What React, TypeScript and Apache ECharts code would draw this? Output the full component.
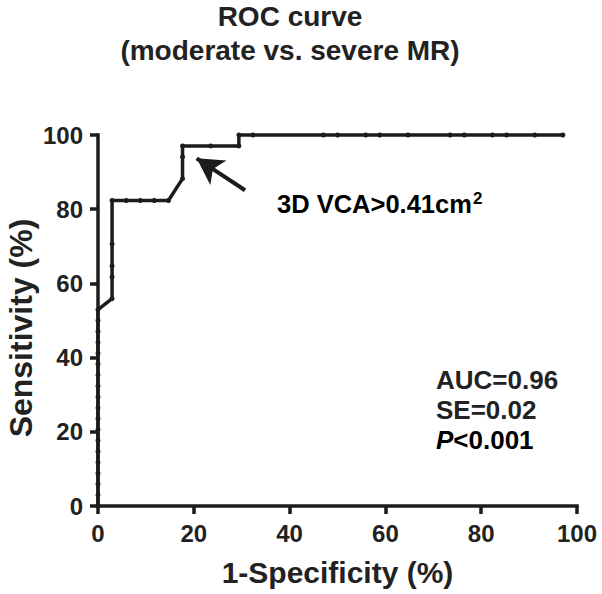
import React, { useEffect, useRef } from "react";
import * as echarts from "echarts";

// 1-Specificity (%) and Sensitivity (%) of the ROC curve points
const fpr = [
  0, 0, 0, 0, 0, 0, 0, 0, 0, 0, 0, 0, 0, 0, 0, 0, 0, 0, 0,
  2.94, 2.94, 2.94, 2.94, 2.94,
  5.88, 8.82, 11.76, 14.71,
  17.65, 17.65, 17.65,
  23.53, 29.41, 29.41,
  32.35, 47.06, 50.0, 55.88, 58.82, 64.71, 73.53, 76.47, 82.35, 85.29, 91.18, 97.06,
];
const tpr = [
  0, 2.94, 5.88, 8.82, 11.76, 14.71, 17.65, 20.59, 23.53, 26.47, 29.41, 32.35, 35.29, 38.24, 41.18, 44.12, 47.06, 50.0, 52.94,
  55.88, 61.76, 64.71, 70.59, 82.35,
  82.35, 82.35, 82.35, 82.35,
  88.24, 94.12, 97.06,
  97.06, 97.06, 100,
  100, 100, 100, 100, 100, 100, 100, 100, 100, 100, 100, 100,
];
const axisTicks = [0, 20, 40, 60, 80, 100];
const titleLines = ["ROC curve", "(moderate vs. severe MR)"];
const xName = "1-Specificity (%)";
const yName = "Sensitivity (%)";
const cutoffLabel = ["3D VCA>0.41cm", "2"];
const arrowFrom = [30.7, 85.1];
const arrowTo = [20.6, 93.7];
const stats = ["AUC=0.96", "SE=0.02", "<0.001"];

const FONT = "'Liberation Sans', Arial, Helvetica, sans-serif";
const INK = "#1c1c1c";

export default function App() {
  const ref = useRef<HTMLDivElement>(null);
  useEffect(() => {
    if (!ref.current) return;
    const chart = echarts.init(ref.current, undefined, { renderer: "svg" });
    const points = fpr.map((x, i) => [x, tpr[i]]);
    const axisCommon = {
      type: "value" as const,
      min: axisTicks[0],
      max: axisTicks[axisTicks.length - 1],
      interval: axisTicks[1] - axisTicks[0],
      axisLine: { show: true, lineStyle: { color: INK, width: 3.5, cap: "square" } },
      axisTick: { show: true, length: 8, inside: false, lineStyle: { color: INK, width: 3.5 } },
      splitLine: { show: false },
      axisLabel: {
        margin: 15,
        color: "#222",
        fontFamily: FONT,
        fontWeight: "bold" as const,
        fontSize: 24,
      },
    };
    const statStyle = {
      fontFamily: FONT,
      fontWeight: "bold",
      fontSize: 26,
      fill: "#222",
      textVerticalAlign: "middle",
    };
    chart.setOption({
      animation: false,
      backgroundColor: "#ffffff",
      title: {
        text: titleLines.join("\n"),
        left: 290,
        top: -1,
        padding: 0,
        textAlign: "center",
        textStyle: {
          fontFamily: FONT,
          fontWeight: "bold",
          fontSize: 28,
          lineHeight: 34,
          color: "#222",
        },
      },
      grid: { left: 98, right: 25, top: 135, bottom: 88, containLabel: false },
      xAxis: { ...axisCommon },
      yAxis: { ...axisCommon },
      series: [
        {
          type: "line",
          data: points,
          symbol: "circle",
          symbolSize: 5,
          showSymbol: true,
          showAllSymbol: true,
          clip: false,
          lineStyle: { color: INK, width: 3.5 },
          itemStyle: { color: INK },
          z: 5,
          markLine: {
            silent: true,
            symbol: ["none", "arrow"],
            symbolSize: [22, 26],
            label: { show: false },
            lineStyle: { color: INK, width: 4, type: "solid" },
            data: [[{ coord: arrowFrom }, { coord: arrowTo }]],
          },
        },
      ],
      graphic: [
        {
          type: "text",
          x: 337.5,
          y: 572,
          style: {
            text: xName,
            fontFamily: FONT,
            fontWeight: "bold",
            fontSize: 30,
            fill: "#222",
            textAlign: "center",
            textVerticalAlign: "middle",
          },
        },
        {
          type: "text",
          x: 21,
          y: 328,
          rotation: Math.PI / 2,
          style: {
            text: yName,
            fontFamily: FONT,
            fontWeight: "bold",
            fontSize: 32,
            fill: "#222",
            textAlign: "center",
            textVerticalAlign: "middle",
          },
        },
        {
          type: "text",
          x: 277,
          y: 204,
          style: {
            text: `{m|${cutoffLabel[0]}}{s|${cutoffLabel[1]}}`,
            fontFamily: FONT,
            textVerticalAlign: "middle",
            rich: {
              m: { fontFamily: FONT, fontWeight: "bold", fontSize: 25.5, color: "#222" },
              s: { fontFamily: FONT, fontWeight: "bold", fontSize: 17, color: "#222", verticalAlign: "top", padding: [0, 0, 12, 1] },
            },
          },
        },
        { type: "text", x: 436, y: 380, style: { ...statStyle, text: stats[0] } },
        { type: "text", x: 436, y: 410, style: { ...statStyle, text: stats[1] } },
        {
          type: "text",
          x: 436,
          y: 440,
          style: {
            text: `{i|P}{n|${stats[2]}}`,
            fontFamily: FONT,
            textVerticalAlign: "middle",
            rich: {
              i: { fontFamily: FONT, fontWeight: "bold", fontStyle: "italic", fontSize: 26, color: "#222" },
              n: { fontFamily: FONT, fontWeight: "bold", fontSize: 26, color: "#222" },
            },
          },
        },
      ],
    });
    return () => chart.dispose();
  }, []);
  return <div ref={ref} style={{ width: 602, height: 594, position: "absolute", left: 0, top: 0 }} />;
}
